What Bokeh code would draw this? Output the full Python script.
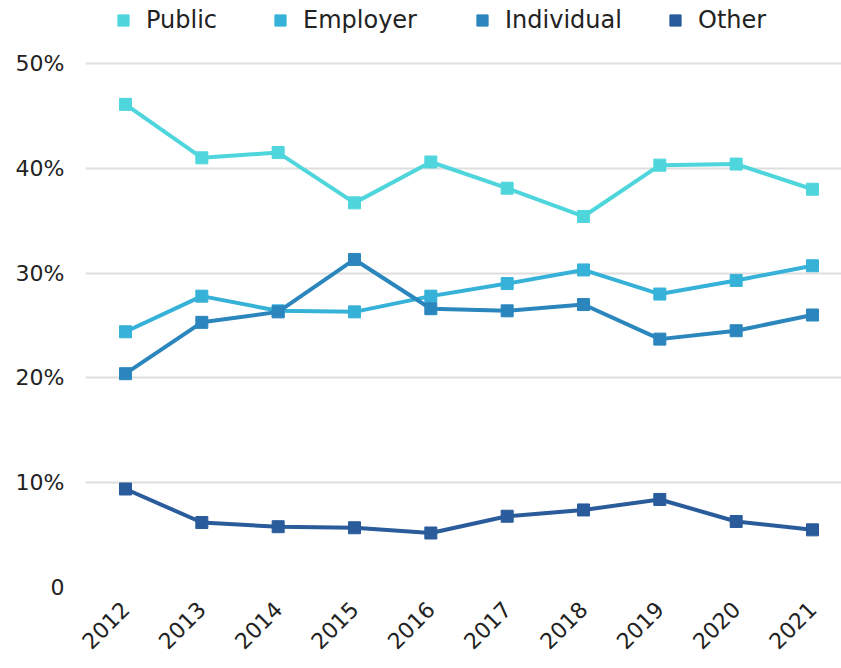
import math
from bokeh.plotting import figure
from bokeh.models import Legend, LegendItem, FixedTicker, Range1d
from bokeh.embed import file_html
from bokeh.resources import INLINE

years = [2012, 2013, 2014, 2015, 2016, 2017, 2018, 2019, 2020, 2021]
public = [46.1, 41.0, 41.5, 36.7, 40.6, 38.1, 35.4, 40.3, 40.4, 38.0]
employer = [24.4, 27.8, 26.4, 26.3, 27.8, 29.0, 30.3, 28.0, 29.3, 30.7]
individual = [20.4, 25.3, 26.3, 31.3, 26.6, 26.4, 27.0, 23.7, 24.5, 26.0]
other = [9.4, 6.2, 5.8, 5.7, 5.2, 6.8, 7.4, 8.4, 6.3, 5.5]

series_names = ["Public", "Employer", "Individual", "Other"]
series_values = [public, employer, individual, other]
colors = ["#4fd6dc", "#36b2d8", "#2b86bd", "#2a5b9b"]
y_ticks = [0, 10, 20, 30, 40, 50]
y_tick_labels = {0: "0", 10: "10%", 20: "20%", 30: "30%", 40: "40%", 50: "50%"}

FONT = "DejaVu Sans"

W, H = 841, 668
LEFT, BOTTOM = 85, 81
p = figure(width=W, height=H, output_backend="svg", toolbar_location=None,
           x_range=Range1d(2011.476, 2021.38), y_range=Range1d(0, 56.01),
           min_border_left=LEFT, min_border_right=0, min_border_top=0, min_border_bottom=BOTTOM)
p.outline_line_color = None
p.background_fill_color = "white"
p.border_fill_color = "white"

# legend square centres (screen px from the left of the canvas)
legend_centres = [125, 282, 484, 677]
frame_h = H - BOTTOM
GLYPH = 28
PAD = 2

for name, vals, col, cx in zip(series_names, series_values, colors, legend_centres):
    p.line(years, vals, line_color=col, line_width=4)
    r = p.scatter(years, vals, marker="square", size=12, fill_color=col, line_color=col)
    lg = Legend(items=[LegendItem(label=name, renderers=[r])], orientation="horizontal",
                location=(cx - GLYPH // 2 - PAD - LEFT, frame_h - 18 - GLYPH // 2 - PAD),
                border_line_color=None, background_fill_alpha=0,
                label_text_font=FONT, label_text_font_size="24px", label_text_color="#222222",
                label_text_baseline="middle",
                glyph_width=GLYPH, glyph_height=GLYPH, spacing=0, label_standoff=9,
                label_height=GLYPH, margin=0, padding=PAD)
    p.add_layout(lg, "center")

p.xgrid.grid_line_color = None
p.ygrid.grid_line_color = "#dedede"
p.ygrid.grid_line_width = 2
p.ygrid.ticker = FixedTicker(ticks=y_ticks)

p.yaxis.ticker = FixedTicker(ticks=y_ticks)
p.yaxis.major_label_overrides = y_tick_labels
p.yaxis.axis_line_color = None
p.yaxis.major_tick_line_color = None
p.yaxis.minor_tick_line_color = None
p.yaxis.major_label_text_font = FONT
p.yaxis.major_label_text_font_size = "22px"
p.yaxis.major_label_text_color = "#222222"
p.yaxis.major_label_standoff = 15

p.xaxis.ticker = FixedTicker(ticks=years)
p.xaxis.axis_line_color = None
p.xaxis.major_tick_line_color = None
p.xaxis.minor_tick_line_color = None
p.xaxis.major_label_orientation = math.pi / 4
p.xaxis.major_label_text_font = FONT
p.xaxis.major_label_text_font_size = "22px"
p.xaxis.major_label_text_color = "#222222"
p.xaxis.major_label_standoff = 12

open("out.html", "w").write(file_html(p, INLINE))
